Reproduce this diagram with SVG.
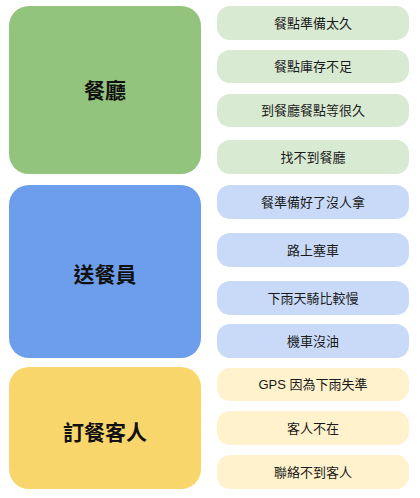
<svg xmlns="http://www.w3.org/2000/svg" width="420" height="498" viewBox="0 0 420 498">
<style>
text{font-family:"Liberation Sans","Noto Sans CJK TC",sans-serif;text-anchor:middle;dominant-baseline:central;fill:#1a1a1a}
.big{font-size:21px;font-weight:bold;fill:#111}
.sm{font-size:13px}
.g{fill:#93c47d}.gl{fill:#d9ead3}
.b{fill:#6d9eeb}.bl{fill:#c9daf8}
.y{fill:#f9d66b}.yl{fill:#fff2cc}
</style>
<rect width="420" height="498" fill="#ffffff"/>
<g id="restaurant">
<rect class="g" x="9" y="6" width="192" height="168" rx="20"/>
<text class="big" x="105" y="90">餐廳</text>
</g>
<g id="r1"><rect class="gl" x="217" y="6" width="192" height="34" rx="13"/><text class="sm" x="313" y="23">餐點準備太久</text></g>
<g id="r2"><rect class="gl" x="217" y="50" width="192" height="33" rx="13"/><text class="sm" x="313" y="66.5">餐點庫存不足</text></g>
<g id="r3"><rect class="gl" x="217" y="94" width="192" height="33" rx="13"/><text class="sm" x="313" y="110.5">到餐廳餐點等很久</text></g>
<g id="r4"><rect class="gl" x="217" y="140" width="192" height="34" rx="13"/><text class="sm" x="313" y="157">找不到餐廳</text></g>
<g id="courier">
<rect class="b" x="9" y="185" width="192" height="173" rx="20"/>
<text class="big" x="105" y="274">送餐員</text>
</g>
<g id="c1"><rect class="bl" x="217" y="185" width="192" height="34" rx="13"/><text class="sm" x="313" y="202">餐準備好了沒人拿</text></g>
<g id="c2"><rect class="bl" x="217" y="233" width="192" height="34" rx="13"/><text class="sm" x="313" y="250">路上塞車</text></g>
<g id="c3"><rect class="bl" x="217" y="281" width="192" height="34" rx="13"/><text class="sm" x="313" y="298">下雨天騎比較慢</text></g>
<g id="c4"><rect class="bl" x="217" y="324" width="192" height="34" rx="13"/><text class="sm" x="313" y="341">機車沒油</text></g>
<g id="customer">
<rect class="y" x="9" y="367" width="192" height="122" rx="20"/>
<text class="big" x="105" y="432">訂餐客人</text>
</g>
<g id="u1"><rect class="yl" x="217" y="368" width="192" height="33" rx="13"/><text class="sm" x="313" y="384.5">GPS 因為下雨失準</text></g>
<g id="u2"><rect class="yl" x="217" y="411" width="192" height="34" rx="13"/><text class="sm" x="313" y="428">客人不在</text></g>
<g id="u3"><rect class="yl" x="217" y="455" width="192" height="34" rx="13"/><text class="sm" x="313" y="472">聯絡不到客人</text></g>
<g id="connectors"></g>
</svg>
